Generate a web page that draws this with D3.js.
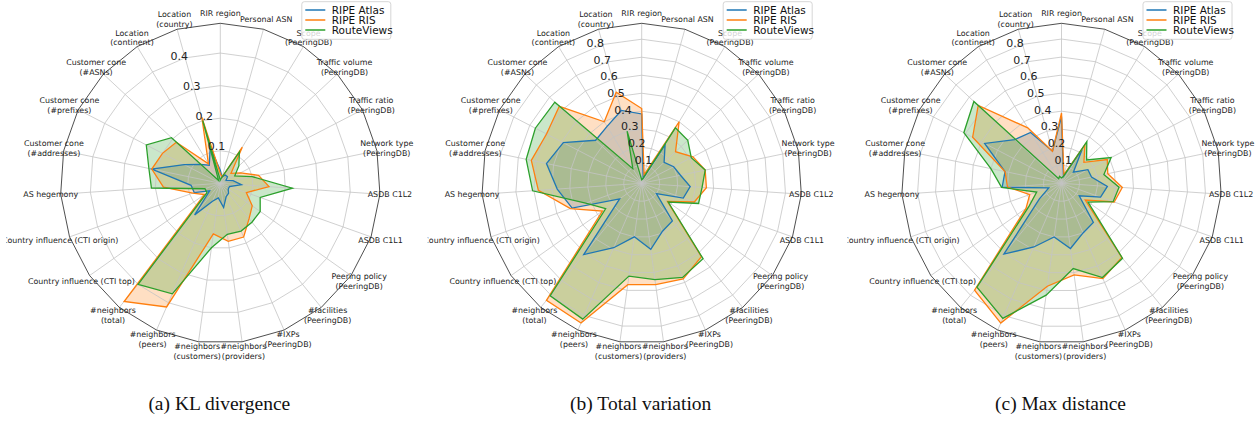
<!DOCTYPE html>
<html>
<head>
<meta charset="utf-8">
<script src="https://cdn.jsdelivr.net/npm/d3@7"></script>
<style>
  body { margin: 0; background: #fff; }
  svg { display: block; }
</style>
</head>
<body>
<svg id="chart" width="1258" height="430"></svg>
<script>
// Feature categories, clockwise from the top
const categories = [
  "RIR region", "Personal ASN", "Scope\n(PeeringDB)", "Traffic volume\n(PeeringDB)",
  "Traffic ratio\n(PeeringDB)", "Network type\n(PeeringDB)", "ASDB C1L2", "ASDB C1L1",
  "Peering policy\n(PeeringDB)", "#facilities\n(PeeringDB)", "#IXPs\n(PeeringDB)",
  "#neighbors\n(providers)", "#neighbors\n(customers)", "#neighbors\n(peers)",
  "#neighbors\n(total)", "Country influence (CTI top)", "Country influence (CTI origin)",
  "AS hegemony", "Customer cone\n(#addresses)", "Customer cone\n(#prefixes)",
  "Customer cone\n(#ASNs)", "Location\n(continent)", "Location\n(country)"
];

const seriesNames = ["RIPE Atlas", "RIPE RIS", "RouteViews"];

// (a) KL divergence
const klAtlas      = [0.04, 0.02, 0.03, 0.03, 0.02, 0.04, 0.065, 0.03, 0.03, 0.04, 0.045, 0.075, 0.045, 0.06, 0.125, 0.04, 0.085, 0.09, 0.215, 0.125, 0.085, 0.065, 0.115];
const klRis        = [0.03, 0.02, 0.13, 0.045, 0.07, 0.12, 0.15, 0.085, 0.12, 0.14, 0.18, 0.18, 0.157, 0.414, 0.468, 0.06, 0.09, 0.175, 0.215, 0.20, 0.185, 0.07, 0.21];
const klRouteViews = [0.01, 0.02, 0.113, 0.078, 0.05, 0.10, 0.222, 0.13, 0.15, 0.154, 0.16, 0.158, 0.20, 0.37, 0.40, 0.05, 0.05, 0.212, 0.224, 0.256, 0.205, 0.01, 0.20];
const klTicks      = [0.1, 0.2, 0.3, 0.4];

// (b) Total variation
const tvAtlas      = [0.385, 0.03, 0.25, 0.17, 0.20, 0.22, 0.27, 0.245, 0.10, 0.27, 0.29, 0.37, 0.30, 0.39, 0.51, 0.15, 0.41, 0.47, 0.54, 0.49, 0.35, 0.37, 0.42];
const tvRis        = [0.415, 0.05, 0.40, 0.257, 0.32, 0.36, 0.36, 0.31, 0.175, 0.525, 0.578, 0.568, 0.568, 0.846, 0.838, 0.267, 0.42, 0.575, 0.626, 0.595, 0.626, 0.40, 0.525];
const tvRouteViews = [0.02, 0.03, 0.36, 0.35, 0.31, 0.36, 0.336, 0.335, 0.18, 0.54, 0.57, 0.54, 0.52, 0.822, 0.805, 0.245, 0.33, 0.607, 0.655, 0.665, 0.66, 0.095, 0.30];
const tvTicks      = [0.1, 0.2, 0.3, 0.4, 0.5, 0.6, 0.7, 0.8];

// (c) Max distance
const mdAtlas      = [0.37, 0.04, 0.22, 0.09, 0.165, 0.17, 0.255, 0.23, 0.12, 0.28, 0.30, 0.365, 0.30, 0.385, 0.506, 0.15, 0.075, 0.33, 0.32, 0.48, 0.355, 0.33, 0.185];
const mdRis        = [0.39, 0.05, 0.25, 0.17, 0.286, 0.262, 0.338, 0.31, 0.161, 0.53, 0.576, 0.513, 0.576, 0.845, 0.764, 0.241, 0.187, 0.30, 0.32, 0.555, 0.632, 0.36, 0.185];
const mdRouteViews = [0.03, 0.04, 0.27, 0.19, 0.31, 0.24, 0.32, 0.304, 0.18, 0.536, 0.57, 0.477, 0.626, 0.817, 0.743, 0.22, 0.146, 0.333, 0.40, 0.61, 0.665, 0.03, 0.04];
const mdTicks      = [0.1, 0.2, 0.3, 0.4, 0.5, 0.6, 0.7, 0.8];

const captions = ["(a) KL divergence", "(b) Total variation", "(c) Max distance"];

// ---------------------------------------------------------------------------
const colors = ["#1f77b4", "#ff7f0e", "#2ca02c"];
const panels = [
  { caption: captions[0], ticks: klTicks, series: [klAtlas, klRis, klRouteViews], cx: 220.3 },
  { caption: captions[1], ticks: tvTicks, series: [tvAtlas, tvRis, tvRouteViews], cx: 641.7 },
  { caption: captions[2], ticks: mdTicks, series: [mdAtlas, mdRis, mdRouteViews], cx: 1061.5 }
];

const svg = d3.select("#chart");
const cy = 183.3;
const R = 160;
const n = categories.length;
const angle = d3.scaleLinear().domain([0, n]).range([0, 2 * Math.PI]);
const font = "DejaVu Sans, sans-serif";
const idx = d3.range(n);

const pt = (a, rad) => [rad * Math.sin(a), -rad * Math.cos(a)];

panels.forEach((p, k) => {
  const rmax = 1.05 * d3.max(p.series.flat());
  const r = d3.scaleLinear().domain([0, rmax]).range([0, R]);

  const clipId = "clip" + k;
  svg.append("clipPath").attr("id", clipId)
    .append("rect").attr("x", p.cx - 214).attr("y", 0).attr("width", 416).attr("height", 385);

  const outer = svg.append("g").attr("clip-path", `url(#${clipId})`);
  const g = outer.append("g").attr("transform", `translate(${p.cx},${cy})`);

  const radial = d3.lineRadial()
    .angle((d, i) => angle(i))
    .radius(d => r(d))
    .curve(d3.curveLinearClosed);

  // fills (drawn below the grid)
  p.series.forEach((vals, s) => {
    g.append("path").attr("d", radial(vals))
      .attr("fill", colors[s]).attr("fill-opacity", 0.25).attr("stroke", "none");
  });

  // grid: polygonal rings and spokes
  const ringLine = rv => d3.lineRadial()
    .angle((d, i) => angle(i)).radius(() => r(rv)).curve(d3.curveLinearClosed)(idx);
  p.ticks.forEach(t => {
    g.append("path").attr("d", ringLine(t))
      .attr("fill", "none").attr("stroke", "#c4c4c4").attr("stroke-width", 0.8);
  });
  idx.forEach(i => {
    const [x, y] = pt(angle(i), R);
    g.append("line").attr("x1", 0).attr("y1", 0).attr("x2", x).attr("y2", y)
      .attr("stroke", "#c4c4c4").attr("stroke-width", 0.8);
  });

  // series outlines
  p.series.forEach((vals, s) => {
    g.append("path").attr("d", radial(vals))
      .attr("fill", "none").attr("stroke", colors[s])
      .attr("stroke-width", 1.3).attr("stroke-linejoin", "miter");
  });

  // polygon frame
  g.append("path").attr("d", ringLine(rmax))
    .attr("fill", "none").attr("stroke", "#222").attr("stroke-width", 0.8);

  // radial tick labels
  const labAngle = -22.5 * Math.PI / 180;
  p.ticks.forEach(t => {
    const [x, y] = pt(labAngle, r(t));
    g.append("text").attr("x", x).attr("y", y - 3)
      .attr("font-family", font).attr("font-size", 11).attr("fill", "#222")
      .text(d3.format(".1f")(t));
  });

  // category labels
  idx.forEach(i => {
    const [x, y] = pt(angle(i), R + 10);
    const lines = categories[i].split("\n");
    const lh = 9.8;
    const t = g.append("text").attr("text-anchor", "middle")
      .attr("font-family", font).attr("font-size", 7.9).attr("fill", "#222");
    lines.forEach((ln, j) => {
      t.append("tspan").attr("x", x)
        .attr("y", y + (j - (lines.length - 1) / 2) * lh)
        .attr("dominant-baseline", "central").text(ln);
    });
  });

  // legend
  const lg = outer.append("g").attr("transform", `translate(${p.cx + 81.5},1.7)`);
  lg.append("rect").attr("width", 89).attr("height", 37.6).attr("rx", 2.5)
    .attr("fill", "#fff").attr("fill-opacity", 0.8)
    .attr("stroke", "#cccccc").attr("stroke-width", 0.8);
  seriesNames.forEach((name, s) => {
    const yy = 8.3 + s * 10;
    lg.append("line").attr("x1", 3.5).attr("x2", 23.5).attr("y1", yy).attr("y2", yy)
      .attr("stroke", colors[s]).attr("stroke-width", 1.5);
    lg.append("text").attr("x", 30).attr("y", yy).attr("dominant-baseline", "central")
      .attr("font-family", font).attr("font-size", 10.5).attr("fill", "#111").text(name);
  });

  // caption
  svg.append("text").attr("x", p.cx - 1).attr("y", 410)
    .attr("text-anchor", "middle")
    .attr("font-family", "Liberation Serif, Times New Roman, serif")
    .attr("font-size", 19.5).attr("fill", "#111")
    .text(p.caption);
});
</script>
</body>
</html>
